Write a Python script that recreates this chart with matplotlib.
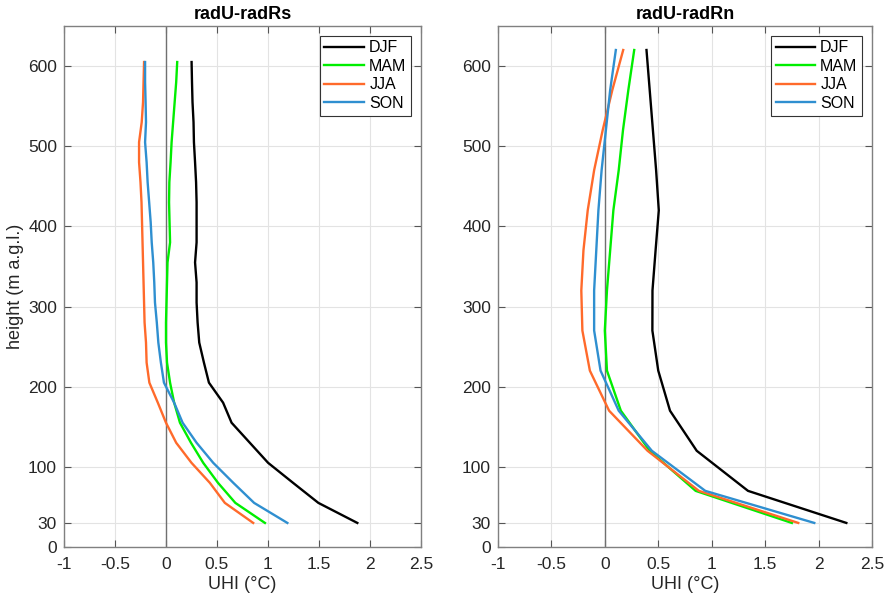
import matplotlib
matplotlib.use('Agg')
from matplotlib import pyplot as plt

plt.rcParams['font.family'] = ['Liberation Sans', 'DejaVu Sans']

# %% Data

seasons = ['DJF', 'MAM', 'JJA', 'SON']
colors = ['#000000', '#00ee00', '#ff6a2b', '#2f8fd0']

# radU-radRs (heights every 25 m from 30 to 605)
h_rs = [30, 55, 80, 105, 130, 155, 180, 205, 230, 255, 280, 305,
        330, 355, 380, 405, 430, 455, 480, 505, 530, 555, 580, 605]
djf_rs = [1.876, 1.494, 1.246, 1.001, 0.822, 0.643, 0.56, 0.421, 0.372, 0.326, 0.31, 0.30,
          0.30, 0.285, 0.30, 0.30, 0.30, 0.295, 0.285, 0.274, 0.27, 0.26, 0.255, 0.251]
mam_rs = [0.97, 0.68, 0.51, 0.365, 0.245, 0.137, 0.08, 0.04, 0.01, 0.0, 0.0, 0.005,
          0.01, 0.015, 0.04, 0.035, 0.03, 0.033, 0.045, 0.055, 0.07, 0.085, 0.10, 0.11]
jja_rs = [0.855, 0.577, 0.43, 0.25, 0.10, 0.0, -0.08, -0.163, -0.19, -0.196, -0.21, -0.215,
          -0.22, -0.225, -0.23, -0.235, -0.24, -0.25, -0.264, -0.264, -0.238, -0.225, -0.22, -0.215]
son_rs = [1.19, 0.864, 0.66, 0.463, 0.30, 0.163, 0.08, -0.02, -0.05, -0.075, -0.09, -0.108,
          -0.115, -0.125, -0.14, -0.15, -0.165, -0.18, -0.19, -0.205, -0.196, -0.20, -0.205, -0.205]

# radU-radRn
h_rn = [30, 70, 120, 170, 220, 270, 320, 370, 420, 470, 520, 570, 620]
djf_rn = [2.26, 1.34, 0.86, 0.61, 0.50, 0.445, 0.446, 0.475, 0.505, 0.48, 0.45, 0.42, 0.39]
mam_rn = [1.75, 0.85, 0.42, 0.15, 0.02, 0.0, 0.02, 0.05, 0.08, 0.13, 0.17, 0.22, 0.275]
jja_rn = [1.81, 0.88, 0.40, 0.04, -0.14, -0.21, -0.22, -0.20, -0.16, -0.10, -0.02, 0.07, 0.172]
son_rn = [1.96, 0.94, 0.44, 0.13, -0.04, -0.10, -0.10, -0.08, -0.06, -0.03, 0.01, 0.05, 0.103]

panels = [('radU-radRs', h_rs, [djf_rs, mam_rs, jja_rs, son_rs]),
          ('radU-radRn', h_rn, [djf_rn, mam_rn, jja_rn, son_rn])]

xticks = [-1, -0.5, 0, 0.5, 1, 1.5, 2, 2.5]
xticklabels = ['-1', '-0.5', '0', '0.5', '1', '1.5', '2', '2.5']
yticks = [0, 30, 100, 200, 300, 400, 500, 600]

# %% Plot

fig = plt.figure(figsize=(8.84, 6.01), dpi=100)
rects = [[0.0724, 0.0899, 0.4038, 0.8669], [0.5633, 0.0899, 0.4231, 0.8669]]

for i, (title, h, series) in enumerate(panels):
    ax = fig.add_axes(rects[i])
    ax.axvline(0, color='#707070', lw=1.0, zorder=1)
    for name, vals, c in zip(seasons, series, colors):
        ax.plot(vals, h, color=c, lw=1.7, label=name, zorder=3)
    ax.set_xlim(-1, 2.5)
    ax.set_ylim(0, 650)
    ax.set_xticks(xticks)
    ax.set_xticklabels(xticklabels)
    ax.set_yticks(yticks)
    ax.grid(True, color='#e3e3e3', lw=0.8)
    ax.set_axisbelow(True)
    ax.tick_params(direction='in', top=True, right=True, length=5, width=0.8,
                   color='#555555', labelsize=12.5, labelcolor='#262626')
    ax.tick_params(axis='x', pad=7)
    ax.tick_params(axis='y', pad=5)
    for s in ax.spines.values():
        s.set_color('#808080')
        s.set_linewidth(1)
    ax.set_title(title, fontsize=13, fontweight='bold', pad=5)
    ax.set_xlabel('UHI (°C)', fontsize=13, color='#262626', labelpad=3)
    if i == 0:
        ax.set_ylabel('height (m a.g.l.)', fontsize=13, color='#262626', labelpad=3)
    leg = ax.legend(loc='upper right', fontsize=11.5, fancybox=False, framealpha=1,
                    edgecolor='#333333', handlelength=2.5, borderpad=0.3,
                    labelspacing=0.22, handletextpad=0.3, borderaxespad=0.6)
    leg.get_frame().set_linewidth(0.8)

fig.savefig('out.png', dpi=100)
